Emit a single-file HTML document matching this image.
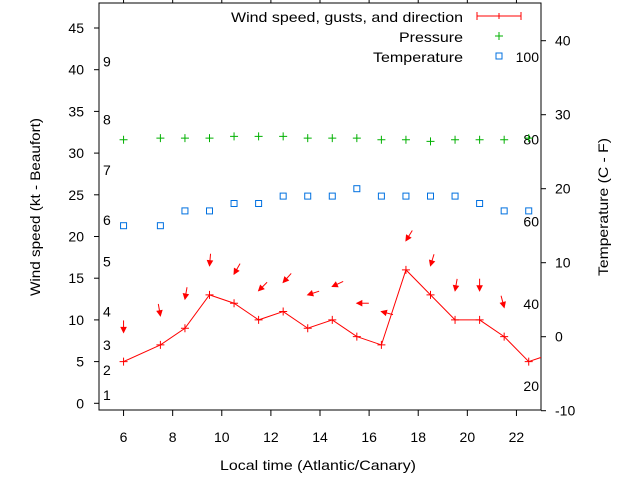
<!DOCTYPE html>
<html><head><meta charset="utf-8"><style>
body{margin:0;background:#fff;}
svg{display:block;font-family:"Liberation Sans",sans-serif;font-size:14px;}
</style></head><body>
<svg id="chart" width="640" height="480" viewBox="0 0 640 480"></svg>
<script>
const hours=[6,7.5,8.5,9.5,10.5,11.5,12.5,13.5,14.5,15.5,16.5,17.5,18.5,19.5,20.5,21.5,22.5,23.5];
const windSpeed=[5,7,9,13,12,10,11,9,10,8,7,16,13,10,10,8,5,6];
const gustHours=[6,7.5,8.5,9.5,10.5,11.5,12.5,13.5,14.5,15.5,16.5,17.5,18.5,19.5,20.5,21.5];
const gusts=[8.5,10.5,12.5,16.5,15.5,13.5,14.5,13,14,12,11,19.5,16.5,13.5,13.5,11.5];
const windDir=[0,350,10,5,30,45,42,72,65,90,105,32,17,10,0,345];
const presHours=[6,7.5,8.5,9.5,10.5,11.5,12.5,13.5,14.5,15.5,16.5,17.5,18.5,19.5,20.5,21.5,22.5];
const pressure=[31.6,31.8,31.8,31.8,32,32,32,31.8,31.8,31.8,31.6,31.6,31.4,31.6,31.6,31.6,31.8];
const temperature=[15,15,17,17,18,18,19,19,19,20,19,19,19,19,18,17,17];
const xTicks=[6,8,10,12,14,16,18,20,22];
const yTicks=[0,5,10,15,20,25,30,35,40,45];
const y2Ticks=[-10,0,10,20,30,40];
const fTicks=[20,40,60,80,100];
const beaufort=[1,2,3,4,5,6,7,8,9];
const beaufortKt=[1,4,7,11,17,22,28,34,41];

const L=99,R=541,T=3,B=410;
const xs=v=>L+(v-5)/(23-5)*(R-L);
const ys=v=>403.3-v*8.34;
const y2=v=>336.7-v*7.4;
const NS='http://www.w3.org/2000/svg';
const svg=document.getElementById('chart');
function el(tag,attrs,parent){const e=document.createElementNS(NS,tag);for(const k in attrs)e.setAttribute(k,attrs[k]);(parent||svg).appendChild(e);return e;}
function txt(x,y,s,anchor,extra){const t=el('text',Object.assign({x:x,y:y,'text-anchor':anchor||'middle',fill:'#000'},extra||{}));t.textContent=s;return t;}

const defs=el('defs',{});const cp=el('clipPath',{id:'pc'},defs);el('rect',{x:L,y:T,width:R-L,height:B-T},cp);

let f=el('rect',{x:L,y:T,width:R-L,height:B-T,fill:'none',stroke:'#000','stroke-width':1});


xTicks.forEach(v=>{const x=xs(v);
 el('line',{x1:x,x2:x,y1:B,y2:B+6,stroke:'#000'});el('line',{x1:x,x2:x,y1:T,y2:T-6,stroke:'#000'});
 const t=txt(x,442,String(v));});
yTicks.forEach(v=>{const y=ys(v);el('line',{x1:L-5,x2:L,y1:y,y2:y,stroke:'#000'});
 const t=txt(84,y+5,String(v),'end');});
y2Ticks.forEach(v=>{const y=y2(v);el('line',{x1:R,x2:R+5,y1:y,y2:y,stroke:'#000'});
 const t=txt(555,y+5,String(v),'start');});
fTicks.forEach(v=>{const c=(v-32)*5/9;const t=txt(539,y2(c)+5,String(v),'end');
 });
beaufort.forEach((b,i)=>{const t=txt(103,ys(beaufortKt[i])+5,String(b),'start');
 });

let t=txt(318,470,'Local time (Atlantic/Canary)','middle',{textLength:196,lengthAdjust:'spacingAndGlyphs'});
t=txt(0,0,'Wind speed (kt - Beaufort)','middle',{transform:'translate(40,207) rotate(-90)',textLength:178,lengthAdjust:'spacingAndGlyphs'});
t=txt(0,0,'Temperature (C - F)','middle',{transform:'translate(608,207) rotate(-90)',textLength:138,lengthAdjust:'spacingAndGlyphs'});

const g=el('g',{'clip-path':'url(#pc)'});
pressure.forEach((p,i)=>{const x=xs(presHours[i]),y=ys(p);
 const m=el('path',{d:`M${x-4},${y}h8M${x},${y-4}v8`,stroke:'#00b000','stroke-width':1},g);
 });
temperature.forEach((v,i)=>{const x=xs(presHours[i]),y=y2(v);
 const m=el('rect',{x:x-3,y:y-3,width:6,height:6,fill:'none',stroke:'#0070e0','stroke-width':1},g);
 });
const pl=el('polyline',{points:hours.map((h,i)=>xs(h)+','+ys(windSpeed[i])).join(' '),fill:'none',stroke:'#f00','stroke-width':1},g);

hours.forEach((h,i)=>{const x=xs(h),y=ys(windSpeed[i]);
 const m=el('path',{d:`M${x-4},${y}h8M${x},${y-4}v8`,stroke:'#f00','stroke-width':1},g);
 });
gusts.forEach((v,i)=>{const x=xs(gustHours[i]),y=ys(v);const a=windDir[i]*Math.PI/180;
 const dx=Math.sin(a),dy=-Math.cos(a);const len=12;
 const tx=x+dx*len,ty=y+dy*len;
 const px=-dy,py=dx;const hl=5,hw=2.5;
 const ag=el('g',{},g);
 el('line',{x1:tx,y1:ty,x2:x,y2:y,stroke:'#f00','stroke-width':1},ag);
 el('polygon',{points:`${x},${y} ${x+dx*hl+px*hw},${y+dy*hl+py*hw} ${x+dx*hl-px*hw},${y+dy*hl-py*hw}`,fill:'#f00',stroke:'#f00'},ag);});

const lg=el('g',{});
t=txt(463,22,'Wind speed, gusts, and direction','end',{textLength:232,lengthAdjust:'spacingAndGlyphs'});lg.appendChild(t);
el('path',{d:'M477,16h44M477,12v8M521,12v8M499,13v6',stroke:'#f00',fill:'none'},lg);
t=txt(463,42,'Pressure','end',{textLength:64,lengthAdjust:'spacingAndGlyphs'});lg.appendChild(t);
el('path',{d:'M495,36h8M499,32v8',stroke:'#00b000'},lg);
t=txt(463,62,'Temperature','end',{textLength:90,lengthAdjust:'spacingAndGlyphs'});lg.appendChild(t);
el('rect',{x:496,y:53,width:6,height:6,fill:'none',stroke:'#0070e0'},lg);
</script>
</body></html>
